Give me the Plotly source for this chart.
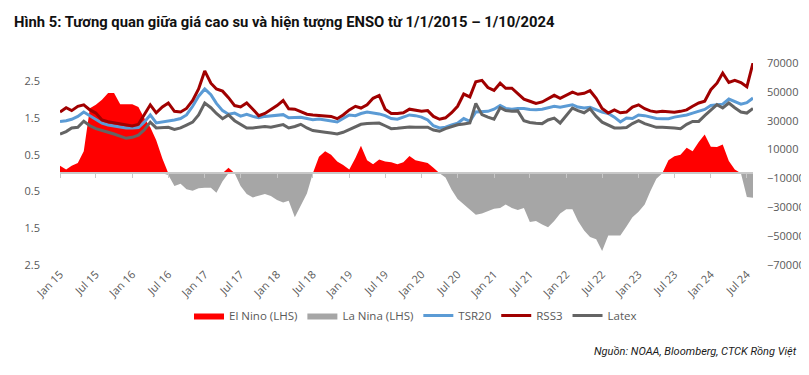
import pandas as pd
import plotly.graph_objects as go

# ---------------- data (monthly, Jan 2015 - Aug 2024) ----------------
months = pd.date_range("2015-01-01", periods=116, freq="MS")

enso = [
    0.2, 0.1, 0.2, 0.28, 0.6, 1.77, 1.86, 2.0, 2.18, 2.18, 1.88, 1.88,
    1.88, 1.8, 1.5, 1.25, 0.9, 0.4, -0.05, -0.35, -0.29, -0.44, -0.48, -0.41,
    -0.40, -0.40, -0.53, -0.22, 0.15, 0.0, -0.35, -0.57, -0.66, -0.62, -0.57, -0.62,
    -0.73, -0.8, -0.75, -1.2, -0.9, -0.55, 0.0, 0.45, 0.6, 0.5, 0.32, 0.22,
    0.1, 0.41, 0.75, 0.35, 0.24, 0.37, 0.32, 0.3, 0.24, 0.3, 0.47, 0.35,
    0.32, 0.28, 0.15, 0.0, -0.12, -0.45, -0.7, -0.85, -0.98, -1.13, -1.1, -1.03,
    -0.97, -0.95, -0.85, -0.95, -1.0, -0.95, -1.33, -1.3, -1.4, -1.47, -1.3, -1.1,
    -0.98, -0.98, -1.3, -1.56, -1.74, -1.8, -2.12, -1.7, -1.7, -1.7, -1.45, -1.2,
    -1.05, -0.85, -0.5, -0.15, 0.0, 0.35, 0.46, 0.5, 0.69, 0.6, 0.85, 1.05,
    0.72, 0.71, 0.78, 0.33, 0.1, 0.0, -0.65, -0.67,
]

rss3 = [
    36000, 39000, 37000, 40000, 41000, 37500, 35300, 30500, 29300, 28500, 27800, 26800,
    26300, 27500, 34000, 41000, 35500, 39500, 42300, 36500, 36000, 38500, 44000, 52000,
    64500, 56000, 52000, 50500, 46000, 40500, 39500, 42300, 38000, 33500, 35000, 37500,
    40500, 44000, 38300, 38000, 36500, 34500, 34000, 33800, 33500, 33000, 31400, 34000,
    37500, 40000, 38800, 41000, 45500, 47500, 38000, 35000, 35000, 35500, 38000, 37500,
    36500, 37000, 33000, 31000, 32000, 35500, 40000, 48500, 46500, 57000, 58000, 53000,
    51000, 56000, 52500, 52500, 49000, 45000, 43500, 42000, 43000, 45500, 47600, 45500,
    47500, 49800, 48300, 49000, 50800, 45500, 38500, 35300, 37500, 35500, 36000, 39500,
    41000, 38300, 36800, 36000, 36500, 36000, 35800, 36500, 37500, 40000, 42300, 43500,
    51500, 56000, 63000, 56500, 58000, 56500, 53500, 70000,
]

tsr20 = [
    29500, 30000, 31000, 33000, 36000, 33500, 31000, 28300, 27000, 26300, 25800, 25000,
    25000, 25300, 29000, 34000, 28500, 29000, 29600, 30500, 31500, 34000, 40000, 47000,
    52000, 48000, 42000, 37000, 34500, 35300, 33200, 34500, 33000, 32000, 33000, 33500,
    34000, 34200, 32000, 32200, 32400, 31500, 30700, 31200, 30500, 30000, 29100, 31500,
    34000, 33500, 35000, 36000, 35500, 34700, 33500, 31500, 31000, 32500, 34000, 33500,
    32500, 30500, 26500, 25000, 25500, 27000, 28200, 31500, 29500, 36000, 36500, 36500,
    38000, 40500, 38500, 38000, 38500, 38500, 37800, 37600, 38000, 39000, 40000, 39300,
    40000, 41100, 39500, 38800, 39300, 37500, 36000, 35000, 32500, 29100, 31900, 31500,
    34000, 33500, 32500, 31500, 31400, 31400, 32500, 33100, 34000, 35300, 36500, 37800,
    40500, 41100, 41500, 45000, 43000, 41500, 42500, 45700,
]

latex = [
    20800, 22500, 25000, 25500, 29600, 26500, 24500, 23000, 22000, 20800, 19500, 17800,
    18500, 20000, 23500, 29000, 25000, 25200, 25400, 24000, 25000, 27000, 29000, 34000,
    42300, 39000, 35000, 31400, 34000, 30000, 27700, 25000, 25000, 25400, 26000, 25500,
    26500, 27300, 25000, 26000, 27500, 25000, 23200, 22800, 22000, 21500, 20800, 22000,
    23800, 26000, 27500, 28000, 28300, 28400, 26500, 24500, 24800, 25300, 25600, 25500,
    25500, 25500, 23500, 22700, 24500, 26000, 27200, 27800, 28400, 42000, 34200, 32500,
    31000, 39000, 37000, 36600, 36800, 30000, 28800, 28300, 28000, 30500, 31800, 28400,
    34000, 38800, 37000, 35500, 38300, 33000, 29000, 26800, 25000, 25000, 25300, 28000,
    30000, 28000, 26500, 25400, 25400, 25400, 25000, 24500, 27500, 29500, 29500, 33500,
    37000, 41100, 38800, 42300, 39000, 36000, 35300, 38500,
]

el_nino = [v if v > 0 else 0 for v in enso]
la_nina = [v if v < 0 else 0 for v in enso]

left_tickvals = [-2.5, -1.5, -0.5, 0.5, 1.5, 2.5]
left_ticktext = ["2.5", "1.5", "0.5", "0.5", "1.5", "2.5"]

TITLE = "Hình 5: Tương quan giữa giá cao su và hiện tượng ENSO từ 1/1/2015 – 1/10/2024"
SOURCE = "Nguồn: NOAA, Bloomberg, CTCK Rồng Việt"

# ---------------- figure ----------------
AX_FONT = dict(family="Open Sans", size=11, color="#595959")
PLOT_W = 809 - 52 - 57
PLOT_H = 375 - 55 - 118

fig = go.Figure()
fig.add_trace(go.Scatter(x=months, y=el_nino, name="El Nino (LHS)", mode="lines",
                         line=dict(width=0, color="#FF0000"), fill="tozeroy",
                         fillcolor="#FF0000", xaxis="x", yaxis="y"))
fig.add_trace(go.Scatter(x=months, y=la_nina, name="La Nina (LHS)", mode="lines",
                         line=dict(width=0, color="#A6A6A6"), fill="tozeroy",
                         fillcolor="#A6A6A6", xaxis="x", yaxis="y"))
fig.add_trace(go.Scatter(x=months, y=tsr20, name="TSR20", mode="lines",
                         line=dict(width=3, color="#5B9BD5"), xaxis="x2", yaxis="y2"))
fig.add_trace(go.Scatter(x=months, y=rss3, name="RSS3", mode="lines",
                         line=dict(width=3, color="#A00000"), xaxis="x2", yaxis="y2"))
fig.add_trace(go.Scatter(x=months, y=latex, name="Latex", mode="lines",
                         line=dict(width=3, color="#646464"), xaxis="x2", yaxis="y2"))

xr = [months[0], months[-1]]
fig.update_layout(
    width=809, height=375,
    margin=dict(l=52, r=57, t=55, b=118),
    paper_bgcolor="white", plot_bgcolor="white",
    showlegend=True,
    xaxis=dict(range=xr, type="date", dtick="M6", tick0="2015-01-01", tickformat="%b %y",
               tickangle=-45, showgrid=False, zeroline=False, showline=False, ticks="",
               tickfont=AX_FONT),
    xaxis2=dict(range=xr, type="date", overlaying="x", anchor="free", position=2.5 / 5.5,
                dtick="M6", tick0="2015-01-01", showticklabels=False, showgrid=False,
                zeroline=False, showline=True, linecolor="#C8C8C8", linewidth=1.5,
                ticks="outside", ticklen=4, tickcolor="#C8C8C8", tickwidth=1),
    yaxis=dict(range=[-2.5, 3.0], tickvals=left_tickvals, ticktext=left_ticktext,
               showgrid=False, zeroline=False, showline=False, ticks="",
               tickfont=AX_FONT, ticklabelstandoff=19),
    yaxis2=dict(range=[-70000, 70000], tick0=-70000, dtick=20000, tickformat="d",
                overlaying="y", side="right", anchor="x2", showgrid=False, zeroline=False,
                showline=False, ticks="", tickfont=AX_FONT, ticklabelstandoff=13),
    legend=dict(orientation="h", x=0.513, xanchor="center", y=-0.25, yanchor="middle",
                font=dict(family="Open Sans", size=11.5, color="#595959"),
                bgcolor="rgba(0,0,0,0)", itemwidth=30, traceorder="normal"),
    annotations=[
        dict(text="<b>" + TITLE + "</b>", xref="paper", yref="paper",
             x=(4 - 52) / PLOT_W, y=(257 - 14) / PLOT_H, xanchor="left", yanchor="middle",
             showarrow=False, font=dict(family="Roboto", size=14.8, color="#111111")),
        dict(text="<i>" + SOURCE + "</i>", xref="paper", yref="paper",
             x=(798 - 52) / PLOT_W, y=(257 - 343) / PLOT_H, xanchor="right",
             yanchor="middle", showarrow=False,
             font=dict(family="Roboto", size=11, color="#1a1a1a")),
    ],
)

fig.write_html("out.html")
